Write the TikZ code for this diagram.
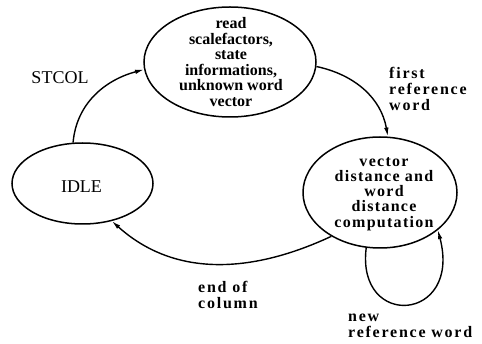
\documentclass[tikz,border=0pt]{standalone}
\usepackage{fontspec}
\setmainfont{Liberation Serif}
\newfontfamily\spacedfont{Liberation Serif}[LetterSpace=8]
\newfontfamily\widefont{Liberation Serif}[LetterSpace=11]
\usetikzlibrary{shapes.geometric,arrows.meta}

\tikzset{
  state/.style={draw, line width=1.5pt, ellipse, inner sep=0pt},
  statetext/.style={inner sep=0pt, align=center, font=\fontsize{16}{15.6}\selectfont\bfseries},
  spacedtext/.style={inner sep=0pt, align=center, font=\fontsize{16}{15.2}\selectfont\spacedfont\bfseries},
  plainlabel/.style={inner sep=0pt, font=\fontsize{18}{20}\selectfont},
  edgelabel/.style={inner sep=0pt, align=left, anchor=north west, font=\fontsize{16}{16.2}\selectfont\widefont\bfseries},
  trans/.style={line width=1.4pt, -{Latex[length=9pt,width=4.5pt]}}
}

\begin{document}
\begin{tikzpicture}[x=1pt,y=-1pt]
  \useasboundingbox (0,0) rectangle (482,344);

  % states
  \node[state, minimum width=172pt, minimum height=110pt] (read) at (230,62) {};
  \node[state, minimum width=141pt, minimum height=81pt] (idle) at (82.5,183.5) {};
  \node[state, minimum width=154pt, minimum height=111pt] (comp) at (380,192.5) {};

  \node[statetext] (readtxt) at (231,62) {read\\scalefactors,\\state\\informations,\\unknown word\\vector};
  \node[plainlabel] (idletxt) at (81.5,187) {IDLE};
  \node[spacedtext] (comptxt) at (384,194) {vector\\distance and\\word\\distance\\computation};

  % transitions
  \draw[trans] (idle.103) to[out=85, in=195] (read.185);
  \draw[trans] (read.-3) to[out=-12, in=100] (comp.82);
  \draw[trans] (comp.222) to[out=205, in=-42] (idle.308);
  \draw[trans] (comp.256) .. controls (356,330) and (462,322) .. (comp.-33);

  % transition labels
  \node[plainlabel] (stcol) at (60,78) {STCOL};
  \node[edgelabel] (firstref) at (389,67) {first\\reference\\word};
  \node[edgelabel] (endcol) at (198,281) {end of\\column};
  \node[edgelabel] (newref) at (348,313.6) {new\\reference word};
\end{tikzpicture}
\end{document}
